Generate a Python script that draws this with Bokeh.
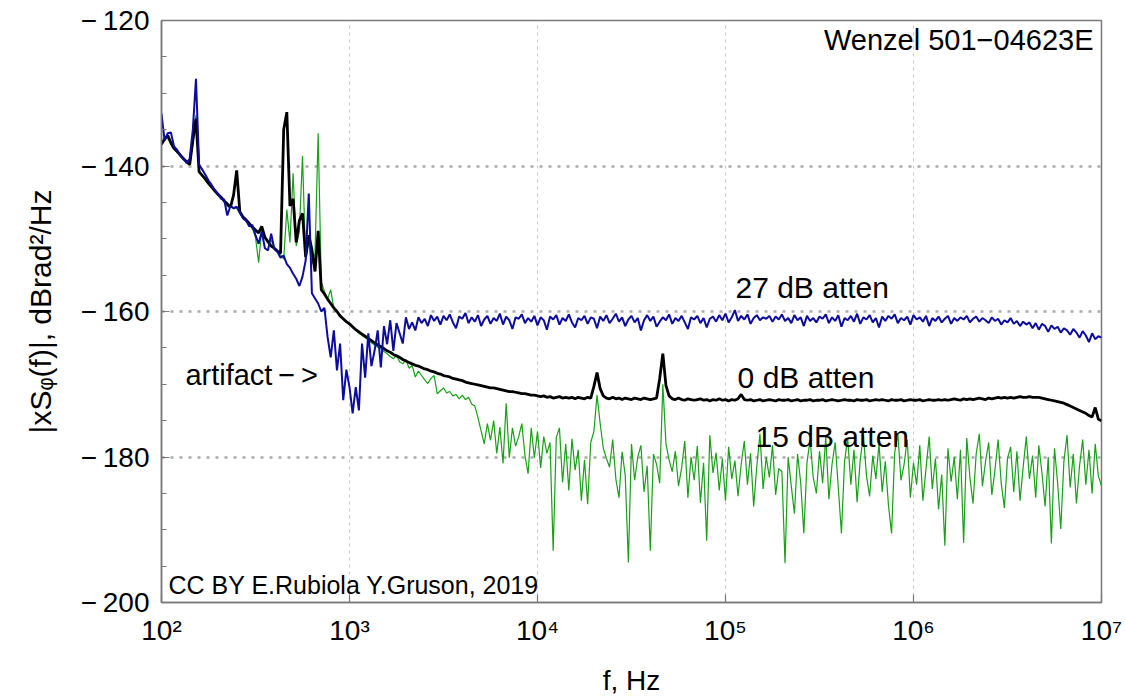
import numpy as np
from bokeh.plotting import figure
from bokeh.models import FixedTicker, Label, Range1d
from bokeh.embed import file_html
from bokeh.resources import INLINE

# analyzer frequency grid: 100 Hz .. 10 MHz, 60 points per decade
freq_hz = np.logspace(2, 7, 301)

# 0 dB attenuation (black), dBrad^2/Hz
atten_0db = [
    -137.0, -136.3, -135.8, -136.8, -137.6, -138.0, -138.5, -139.0, -139.4, -139.8,
    -136.5, -133.5, -140.8, -141.3, -141.8, -142.4, -142.9, -143.4, -143.9, -144.3,
    -144.8, -145.2, -145.7, -144.0, -140.6, -146.3, -147.0, -147.4, -147.9, -148.4,
    -148.8, -149.2, -148.3, -149.8, -150.4, -151.0, -151.3, -151.7, -152.0, -135.0,
    -132.6, -145.5, -144.5, -150.5, -147.5, -146.5, -152.5, -149.5, -151.5, -154.5,
    -148.9, -157.0, -157.6, -158.3, -158.9, -159.5, -160.0, -160.6, -161.0, -161.4,
    -161.7, -162.1, -162.5, -162.8, -163.1, -163.4, -163.7, -164.0, -164.3, -164.6,
    -164.8, -165.1, -165.4, -165.6, -165.9, -166.1, -166.3, -166.6, -166.8, -167.0,
    -167.2, -167.4, -167.5, -167.7, -167.9, -168.0, -168.2, -168.3, -168.5, -168.6,
    -168.8, -168.9, -169.0, -169.2, -169.3, -169.4, -169.5, -169.7, -169.8, -169.9,
    -170.0, -170.1, -170.2, -170.3, -170.4, -170.5, -170.5, -170.6, -170.7, -170.8,
    -170.9, -171.0, -171.0, -171.1, -171.2, -171.3, -171.3, -171.4, -171.5, -171.5,
    -171.6, -171.7, -171.6, -171.8, -171.7, -171.9, -171.8, -171.7, -171.9, -171.8,
    -171.9, -171.8, -172.0, -171.8, -171.9, -172.0, -171.8, -171.9, -170.3, -168.4,
    -170.6, -171.6, -171.9, -172.0, -171.8, -172.0, -171.9, -172.1, -171.9, -172.0,
    -172.1, -171.9, -172.0, -172.1, -171.9, -172.0, -172.1, -172.0, -171.9, -169.2,
    -165.8, -170.2, -171.6, -172.0, -172.1, -171.9, -172.1, -172.2, -172.0, -172.1,
    -172.2, -172.1, -172.0, -172.2, -172.1, -172.3, -172.1, -172.2, -172.0, -172.2,
    -172.1, -172.3, -172.1, -172.2, -172.0, -171.4, -172.1, -172.2, -172.1, -172.3,
    -172.2, -172.1, -172.3, -172.2, -172.1, -172.2, -172.3, -172.1, -172.2, -172.2,
    -172.1, -172.3, -172.2, -172.1, -172.3, -172.2, -172.2, -172.1, -172.3, -172.2,
    -172.2, -172.1, -172.3, -172.2, -172.1, -172.2, -172.3, -172.2, -172.1, -172.2,
    -172.2, -172.3, -172.1, -172.2, -172.2, -172.1, -172.3, -172.2, -172.1, -172.2,
    -172.1, -172.2, -172.3, -172.1, -172.2, -172.2, -172.1, -172.3, -172.2, -172.1,
    -172.2, -172.2, -172.1, -172.3, -172.2, -172.1, -172.2, -172.2, -172.1, -172.2,
    -172.1, -172.2, -172.1, -172.0, -172.1, -172.2, -172.0, -172.1, -172.0, -172.1,
    -172.0, -171.9, -172.0, -172.1, -171.9, -172.0, -171.9, -171.8, -171.9, -171.8,
    -171.9, -171.8, -171.9, -171.8, -171.7, -171.8, -171.8, -171.7, -171.8, -171.8,
    -171.8, -171.9, -172.0, -172.1, -172.2, -172.3, -172.4, -172.5, -172.6, -172.8,
    -173.0, -173.2, -173.4, -173.6, -173.8, -174.0, -174.3, -174.5, -173.2, -174.8,
    -175.0,
]

# 27 dB attenuation (blue)
atten_27db = [
    -132.8, -136.5, -135.5, -135.4, -137.3, -137.8, -138.6, -138.9, -139.6, -139.0,
    -135.0, -128.0, -139.8, -140.5, -141.2, -142.0, -142.6, -143.3, -143.8, -144.5,
    -144.6, -146.8, -145.5, -145.8, -145.6, -146.4, -147.2, -147.5, -148.3, -148.1,
    -149.5, -150.7, -149.0, -151.3, -151.6, -149.3, -151.4, -151.8, -152.6, -152.3,
    -153.5, -154.0, -154.8, -155.5, -156.5, -155.2, -153.0, -143.8, -157.5, -158.2,
    -158.9, -160.0, -159.5, -163.5, -166.3, -162.6, -168.1, -164.4, -172.2, -168.0,
    -170.4, -174.0, -170.4, -173.6, -164.4, -169.1, -163.0, -167.5, -165.4, -162.6,
    -167.7, -162.0, -164.5, -161.2, -165.4, -161.6, -163.0, -164.4, -160.8, -162.4,
    -161.5, -162.6, -160.8, -161.6, -161.0, -162.0, -160.5, -161.3, -160.7, -161.8,
    -160.6, -161.2, -160.4, -161.5, -162.3, -160.7, -161.0, -160.2, -161.6, -160.8,
    -161.4, -160.5, -162.0, -161.1, -160.6, -161.7, -160.9, -161.3, -160.3, -161.8,
    -160.7, -161.2, -162.4, -160.8, -161.0, -160.4, -161.6, -160.9, -161.4, -160.6,
    -161.9, -160.8, -161.2, -162.5, -160.7, -161.1, -160.5, -161.8, -160.9, -161.3,
    -160.4, -161.5, -162.2, -160.9, -161.2, -160.6, -161.7, -160.8, -161.0, -162.3,
    -160.7, -161.3, -160.5, -161.6, -161.0, -160.3, -161.4, -160.8, -162.0, -161.1,
    -160.6, -161.5, -160.9, -162.6, -161.2, -160.5, -161.3, -160.7, -162.1, -161.4,
    -160.8, -161.2, -160.4, -161.7, -160.9, -161.3, -160.6, -161.5, -162.4, -160.8,
    -161.1, -160.6, -161.6, -160.9, -162.2, -161.0, -160.7, -161.4, -160.5, -161.2,
    -160.3, -161.5, -160.8, -159.8, -161.3, -160.6, -161.1, -160.4, -161.7, -160.9,
    -160.5, -161.2, -160.8, -161.0, -160.6, -161.4, -160.7, -161.1, -160.4, -161.3,
    -160.9, -161.6, -160.5, -161.2, -160.8, -162.0, -160.6, -161.3, -160.9, -161.5,
    -160.7, -161.0, -160.4, -161.6, -160.8, -161.3, -160.5, -162.1, -160.9, -161.2,
    -160.6, -161.4, -160.3, -161.7, -160.8, -161.1, -160.5, -161.5, -160.9, -162.2,
    -160.7, -161.3, -160.6, -161.0, -160.4, -161.6, -160.9, -161.2, -160.7, -161.8,
    -160.5, -161.1, -160.8, -161.4, -160.6, -162.0, -160.9, -161.3, -160.7, -161.5,
    -161.0, -160.6, -161.7, -160.9, -161.3, -160.8, -161.1, -160.6, -161.5, -161.0,
    -160.7, -161.4, -160.9, -161.2, -161.6, -160.8, -161.3, -161.0, -161.8, -161.2,
    -161.5, -160.9, -161.7, -161.3, -162.0, -161.4, -161.8, -161.5, -162.3, -161.6,
    -162.5, -161.7, -162.0, -162.8, -161.9, -162.4, -162.1, -162.9, -162.3, -162.6,
    -163.2, -162.4, -162.9, -163.6, -162.7, -163.3, -164.2, -163.0, -163.8, -163.4,
    -163.6,
]

# 15 dB attenuation (green)
atten_15db = [
    -137.2, -136.0, -136.2, -137.0, -137.5, -138.2, -138.4, -139.1, -139.5, -139.9,
    -137.0, -133.0, -140.6, -141.4, -141.7, -142.5, -142.8, -143.5, -143.8, -144.4,
    -144.7, -145.6, -145.4, -145.9, -145.8, -146.5, -147.1, -147.6, -148.0, -148.6,
    -149.8, -153.3, -148.6, -150.0, -150.6, -150.2, -151.2, -151.8, -152.2, -152.8,
    -146.0, -150.5, -141.0, -151.0, -149.0, -138.6, -153.0, -150.5, -153.5, -152.0,
    -135.5, -156.0, -157.2, -158.3, -157.0, -159.6, -160.0, -160.5, -161.1, -161.5,
    -161.8, -162.2, -162.6, -163.0, -163.3, -163.6, -163.9, -164.3, -164.6, -164.9,
    -165.1, -165.5, -165.8, -166.2, -166.5, -166.0, -166.9, -167.2, -166.6, -167.8,
    -167.4, -169.0, -168.2, -168.8, -169.4, -169.9, -169.2, -168.8, -171.3, -170.9,
    -170.5, -171.2, -171.0, -171.6, -171.4, -172.0, -171.5, -172.1, -171.8, -172.7,
    -173.0, -174.6, -176.4, -178.2, -175.4, -177.7, -175.0, -179.5, -175.9, -180.9,
    -172.6, -180.1, -176.0, -178.5, -177.2, -175.4, -179.8, -182.3, -176.0, -180.1,
    -176.5, -181.5, -177.2, -179.5, -178.0, -192.9, -177.3, -176.0, -183.5, -178.2,
    -184.6, -177.5, -181.8, -179.0, -186.0, -180.4, -186.5, -178.0, -176.5, -171.5,
    -175.4, -178.8, -180.2, -181.4, -177.6, -183.0, -185.6, -179.3, -182.5, -194.5,
    -178.2, -183.2, -180.0, -178.4, -184.8, -181.2, -192.9, -179.6, -181.0, -183.6,
    -170.0, -178.2, -180.4, -182.0, -179.2, -184.0, -181.5, -177.8, -185.6, -180.0,
    -183.2, -178.5, -186.3, -180.8, -191.5, -177.0, -182.2, -179.4, -184.6, -180.2,
    -186.0, -178.6, -183.0, -180.5, -185.4, -181.0, -177.8, -183.8, -179.5, -186.8,
    -181.2, -176.8, -184.4, -180.0, -182.8, -178.4, -185.2, -181.6, -182.0, -194.6,
    -180.0, -184.0, -187.8, -179.6, -183.5, -190.5, -180.8, -177.6, -182.8, -185.0,
    -179.2, -183.6, -177.2, -185.8, -181.0, -178.0, -184.2, -190.5, -180.6, -177.4,
    -183.8, -179.0, -186.2, -180.4, -177.0, -182.6, -185.4, -179.8, -183.0, -178.2,
    -184.8, -180.6, -186.6, -190.5, -179.4, -176.8, -183.2, -181.0, -177.6, -185.6,
    -180.8, -183.8, -178.4, -186.0, -181.6, -177.2, -184.4, -180.2, -187.2, -182.4,
    -192.2, -178.8, -183.4, -180.0, -185.8, -179.0, -191.8, -177.4, -182.8, -186.4,
    -179.6, -176.8, -184.0, -180.6, -178.0, -185.2, -181.8, -177.6, -183.6, -187.0,
    -180.2, -178.6, -184.8, -179.2, -186.0, -181.4, -177.2, -183.0, -179.8, -185.6,
    -178.4, -182.2, -186.8, -180.0, -191.9, -178.8, -183.6, -189.9, -180.6, -177.0,
    -184.2, -179.6, -186.4, -181.2, -177.6, -183.8, -179.0, -185.0, -178.2, -182.6,
    -184.0,
]

x_tick_values = [1e2, 1e3, 1e4, 1e5, 1e6, 1e7]
x_tick_labels = ["10\u00b2", "10\u00b3", "10\u2074", "10\u2075", "10\u2076", "10\u2077"]
y_tick_values = [-200, -180, -160, -140, -120]
y_tick_labels = ["\u2212\u2009200", "\u2212\u2009180", "\u2212\u2009160", "\u2212\u2009140", "\u2212\u2009120"]
y_minor_values = [-195, -190, -185, -175, -170, -165, -155, -150, -145, -135, -130, -125]

FONT = "Liberation Sans"
FRAME = "#7a7a7a"
LIFT = 11  # px: raise labels so their baseline sits where intended

p = figure(width=1125, height=698, x_axis_type="log",
           x_range=Range1d(1e2, 1e7), y_range=Range1d(-200, -120),
           output_backend="svg", toolbar_location=None,
           min_border_left=161, min_border_right=24,
           min_border_top=20, min_border_bottom=96)
p.background_fill_color = "white"
p.border_fill_color = "white"
p.outline_line_color = FRAME
p.outline_line_width = 1.5

p.xaxis.ticker = FixedTicker(ticks=x_tick_values, minor_ticks=[])
p.yaxis.ticker = FixedTicker(ticks=y_tick_values, minor_ticks=y_minor_values)
p.xaxis.major_label_overrides = dict(zip(x_tick_values, x_tick_labels))
p.yaxis.major_label_overrides = dict(zip(y_tick_values, y_tick_labels))

for ax in (p.xaxis[0], p.yaxis[0]):
    ax.axis_line_color = FRAME
    ax.axis_line_width = 1.5
    ax.major_tick_line_color = FRAME
    ax.minor_tick_line_color = FRAME
    ax.major_tick_line_width = 1.2
    ax.minor_tick_line_width = 1.2
    ax.major_tick_in = 8
    ax.major_tick_out = 0
    ax.minor_tick_in = 5
    ax.minor_tick_out = 0
    ax.major_label_text_font = FONT
    ax.major_label_text_font_size = "28px"
    ax.major_label_text_color = "black"
    ax.axis_label_text_font = FONT
    ax.axis_label_text_font_style = "normal"
    ax.axis_label_text_color = "black"

p.xaxis.major_label_standoff = 12
p.yaxis.major_label_standoff = 12

p.yaxis.axis_label = "|xS\u1d69(f)|, dBrad\u00b2/Hz"
p.yaxis.axis_label_text_font_size = "30px"
p.yaxis.axis_label_standoff = 21

p.xaxis.axis_label = "f, Hz"
p.xaxis.axis_label_text_font_size = "28px"
p.xaxis.axis_label_standoff = 16

p.xgrid.grid_line_color = "#c8c8c8"
p.xgrid.grid_line_width = 1
p.xgrid.grid_line_dash = "3 4"
p.ygrid.grid_line_color = "#ababab"
p.ygrid.grid_line_width = 2.5
p.ygrid.grid_line_dash = "3 6"

p.line(freq_hz, atten_15db, line_color="#18a018", line_width=1.2)
p.line(freq_hz, atten_0db, line_color="black", line_width=2.8)
p.line(freq_hz, atten_27db, line_color="#0c0c9e", line_width=2.0)

def add_label(text, x, y, size, align="left", xo=0, yo=0):
    p.add_layout(Label(x=x, y=y, x_offset=xo, y_offset=yo + LIFT, text=text,
                       text_font=FONT, text_font_size=size, text_color="black",
                       text_align=align, text_baseline="alphabetic"))

add_label("Wenzel 501\u221204623E", 1e7, -120, "29px", align="right", xo=-8, yo=-30)
add_label("27 dB atten", 1.13e5, -158.2, "30px")
add_label("0 dB atten", 1.16e5, -170.6, "30px")
add_label("15 dB atten", 1.445e5, -178.7, "30px")
add_label("artifact\u2009\u2212\u2009>", 134, -170.2, "29px")
add_label("CC BY E.Rubiola Y.Gruson,  2019", 1e2, -200, "25px", xo=7, yo=7)

open("out.html", "w").write(file_html(p, INLINE))
